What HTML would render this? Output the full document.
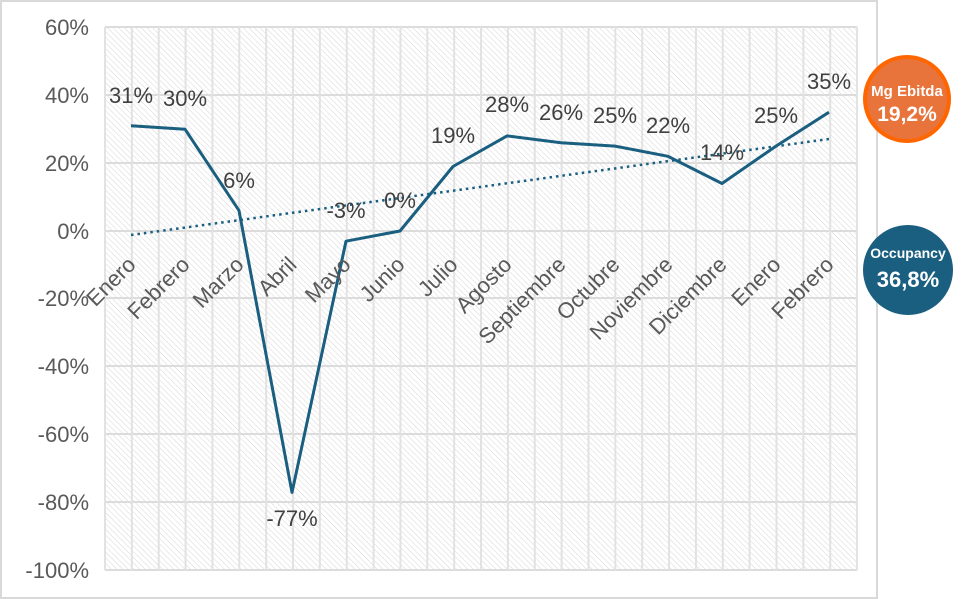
<!DOCTYPE html>
<html><head><meta charset="utf-8"><style>
body{margin:0;background:#fff;}
svg{display:block;font-family:"Liberation Sans",sans-serif;}
</style></head><body>
<svg width="972" height="599" viewBox="0 0 972 599" xmlns="http://www.w3.org/2000/svg">
<defs>
<pattern id="h" width="4" height="4" patternUnits="userSpaceOnUse" patternTransform="rotate(-45)">
<rect width="4" height="4" fill="#fff"/>
<line x1="0" y1="0" x2="0" y2="4" stroke="#d6d6d6" stroke-width="1"/>
</pattern>
</defs>
<rect x="1" y="1" width="876" height="597" fill="#fff" stroke="#d9d9d9" stroke-width="2"/>
<rect x="105" y="27" width="752" height="543" fill="url(#h)"/>
<g stroke="#dcdcdc" stroke-width="2">
<line x1="105" y1="27" x2="857" y2="27"/><line x1="105" y1="95" x2="857" y2="95"/>
<line x1="105" y1="163" x2="857" y2="163"/><line x1="105" y1="231" x2="857" y2="231"/>
<line x1="105" y1="298" x2="857" y2="298"/><line x1="105" y1="366" x2="857" y2="366"/>
<line x1="105" y1="434" x2="857" y2="434"/><line x1="105" y1="502" x2="857" y2="502"/>
<line x1="105" y1="570" x2="857" y2="570"/>
</g>
<g stroke="#e2e2e2" stroke-width="2" id="vg"></g>
<script>
var g=document.getElementById('vg');for(var i=0;i<=28;i++){var x=105+i*26.86;var l=document.createElementNS('http://www.w3.org/2000/svg','line');l.setAttribute('x1',x);l.setAttribute('x2',x);l.setAttribute('y1',27);l.setAttribute('y2',570);g.appendChild(l);}
</script>
<g fill="#595959" font-size="22" text-anchor="end">
<text x="89" y="35">60%</text><text x="89" y="103">40%</text><text x="89" y="171">20%</text>
<text x="89" y="239">0%</text><text x="89" y="306">-20%</text><text x="89" y="374">-40%</text>
<text x="89" y="442">-60%</text><text x="89" y="510">-80%</text><text x="89" y="578">-100%</text>
</g>
<line x1="131" y1="235" x2="829" y2="139" stroke="#1a5f80" stroke-width="2.5" stroke-dasharray="2.5,4"/>
<polyline fill="none" stroke="#1a5f80" stroke-width="3" stroke-linejoin="round" points="131,125.8 185,129.2 239,210.6 292,492.4 346,241.2 400,231 453,166.5 507,135.9 561,142.7 615,146.1 668,156.3 722,183.5 776,146.1 829,112.2"/>
<g fill="#404040" font-size="22" text-anchor="middle">
<text x="131" y="103">31%</text><text x="185" y="106">30%</text><text x="239" y="188">6%</text>
<text x="292" y="526">-77%</text><text x="346" y="218">-3%</text><text x="400" y="208">0%</text>
<text x="453" y="143">19%</text><text x="507" y="112">28%</text><text x="561" y="120">26%</text>
<text x="615" y="123">25%</text><text x="668" y="133">22%</text><text x="722" y="160">14%</text>
<text x="776" y="123">25%</text><text x="829" y="89">35%</text>
</g>
<g fill="#595959" font-size="22" text-anchor="end">
<text transform="translate(137,266) rotate(-45)">Enero</text>
<text transform="translate(191,266) rotate(-45)">Febrero</text>
<text transform="translate(245,266) rotate(-45)">Marzo</text>
<text transform="translate(298,266) rotate(-45)">Abril</text>
<text transform="translate(352,266) rotate(-45)">Mayo</text>
<text transform="translate(406,266) rotate(-45)">Junio</text>
<text transform="translate(459,266) rotate(-45)">Julio</text>
<text transform="translate(513,266) rotate(-45)">Agosto</text>
<text transform="translate(567,266) rotate(-45)">Septiembre</text>
<text transform="translate(621,266) rotate(-45)">Octubre</text>
<text transform="translate(674,266) rotate(-45)">Noviembre</text>
<text transform="translate(728,266) rotate(-45)">Diciembre</text>
<text transform="translate(782,266) rotate(-45)">Enero</text>
<text transform="translate(835,266) rotate(-45)">Febrero</text>
</g>
<circle cx="907" cy="99" r="42" fill="#e8743b" stroke="#ff6600" stroke-width="4"/>
<text x="907" y="96" fill="#fff" font-size="15" font-weight="bold" text-anchor="middle">Mg Ebitda</text>
<text x="907" y="121" fill="#fff" font-size="21" font-weight="bold" text-anchor="middle">19,2%</text>
<circle cx="908" cy="270" r="45" fill="#1a5f80"/>
<text x="908" y="258" fill="#fff" font-size="14" font-weight="bold" text-anchor="middle">Occupancy</text>
<text x="908" y="287" fill="#fff" font-size="22" font-weight="bold" text-anchor="middle">36,8%</text>
</svg>
</body></html>
